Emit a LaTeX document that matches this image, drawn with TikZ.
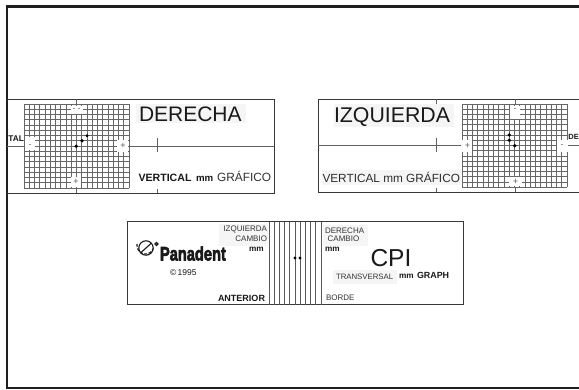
\documentclass[tikz,border=0pt]{standalone}
\usepackage{fontspec}
\setmainfont{Liberation Sans}
\newfontfamily\panafont[FakeBold=3.5]{Liberation Sans}
\newcommand{\fsz}[1]{\fontsize{#1}{#1}\selectfont}
\tikzset{
  frameline/.style={line width=2.5pt,draw=black!88},
  panelline/.style={line width=1pt,draw=black!78},
  gridline/.style={line width=0.6pt,draw=black!60},
  thinline/.style={line width=0.7pt,draw=black!62},
  label/.style={inner sep=0pt,outer sep=0pt,text=black!90},
  lw/.style={label,anchor=base west},
  le/.style={label,anchor=base east},
  patch/.style={fill=black!4,draw=none},
  gap/.style={fill=white,draw=none},
  dot/.style={circle,fill=black,inner sep=0pt,minimum size=#1},
  dot/.default=3.8pt
}
\begin{document}
\begin{tikzpicture}[x=1pt,y=-1pt]
\useasboundingbox (0,0) rectangle (579,390);
\fill[white] (0,0) rectangle (579,390);
% outer frame
\draw[frameline] (579,6.5) -- (7,6.5) -- (7,388) -- (579,388);

% ---------- left panel ----------
\fill[patch] (136,104) rectangle (246,123);
\draw[panelline] (7,99.5) -- (274,99.5) -- (274,193.5) -- (7,193.5);
\draw[thinline] (7,146) -- (274,146);
\draw[thinline] (76.3,99.5) -- (76.3,193.5);
\draw[thinline] (157,138) -- (157,152);
\draw[thinline] (157,189) -- (157,193.5);
\fill[white] (24,104) rectangle (129,188);
\foreach \i in {0,...,20} \draw[gridline] (24+5.25*\i,104) -- (24+5.25*\i,188);
\foreach \j in {0,...,16} \draw[gridline] (24,104+5.25*\j) -- (129,104+5.25*\j);
\fill[gap] (71,106.5) rectangle (83,114);
\fill[gap] (71,177) rectangle (81,187);
\fill[gap] (25,137) rectangle (35,150);
\fill[gap] (117,140) rectangle (128,152);
\node[label,text=black!55,font=\fsz{9}] (lm1) at (74,110) {-};
\node[label,text=black!55,font=\fsz{9}] (lm2) at (79,110) {-};
\node[label,text=black!65,font=\fsz{9}] (lp1) at (76,182) {+};
\node[label,text=black!55,font=\fsz{9}] (lm3) at (30,146) {-};
\node[label,text=black!65,font=\fsz{9}] (lp2) at (123,145.5) {+};
\node[dot] (ld1) at (76.3,146.3) {};
\node[dot] (ld2) at (82,140.7) {};
\node[dot,minimum size=3.2pt] (ld3) at (87,135.7) {};
\node[lw,font=\fsz{21}] (dere) at (139,121.8) {DERECHA};
\node[lw,font=\fsz{8.3}\bfseries] (tal) at (8.5,142) {TAL};
\node[lw,font=\fsz{10.6}\bfseries] (lv) at (138.5,181.7) {VERTICAL};
\node[lw,font=\fsz{9.7}\bfseries] (lmm) at (196,181.7) {mm};
\node[lw,font=\fsz{11.9},text=black!80] (lg) at (217,181.7) {GRÁFICO};

% ---------- right panel ----------
\fill[patch] (334,104) rectangle (454,127);
\fill[patch] (322,170) rectangle (461,185.5);
\draw[panelline] (579,99.5) -- (318,99.5) -- (318,192.5) -- (579,192.5);
\draw[thinline] (318,145.7) -- (579,145.7);
\draw[thinline] (515,99.5) -- (515,192.5);
\draw[thinline] (436,99.5) -- (436,104);
\draw[thinline] (436,138) -- (436,152);
\draw[thinline] (436,188) -- (436,192.5);
\fill[white] (462,104) rectangle (567,187);
\foreach \i in {0,...,20} \draw[gridline] (462+5.25*\i,104) -- (462+5.25*\i,187);
\foreach \j in {0,...,16} \draw[gridline] (462,104+5.1875*\j) -- (567,104+5.1875*\j);
\fill[gap] (510,106) rectangle (520,119);
\fill[gap] (509,177) rectangle (522,186);
\fill[gap] (461,140) rectangle (472,152);
\fill[gap] (557,140) rectangle (568,152);
\node[label,text=black!55,font=\fsz{9}] (rm1) at (515,110) {-};
\node[label,text=black!65,font=\fsz{9}] (rp1) at (515.5,182) {+};
\node[label,text=black!65,font=\fsz{9}] (rp2) at (467.5,145.5) {+};
\node[label,text=black!55,font=\fsz{9}] (rm2) at (562,146) {-};
\node[dot] (rd1) at (509.3,135) {};
\node[dot] (rd2) at (509.3,140.3) {};
\node[dot] (rd3) at (514.7,145.7) {};
\node[lw,font=\fsz{21.3}] (izq) at (334,122.7) {IZQUIERDA};
\node[lw,font=\fsz{11.8},text=black!82] (rv) at (322.5,182.7) {VERTICAL mm GRÁFICO};
\node[lw,font=\fsz{7.5}\bfseries] (rde) at (568.4,140) {DE};

% ---------- CPI panel ----------
\fill[patch] (219,224) rectangle (268,246);
\fill[patch] (323,225) rectangle (368,246);
\fill[patch] (333,270) rectangle (397,284);
\draw[panelline] (127,222) rectangle (463,305);
\foreach \x in {269,274,279,284,289,295,300,305,310,315,321}
  \draw[line width=0.7pt,draw=black!65] (\x,222) -- (\x,305);
\node[dot,minimum size=3.2pt] (cd1) at (295,258) {};
\node[dot,minimum size=3.2pt] (cd2) at (300,258) {};
\node[le,font=\fsz{8},text=black!80] (ci) at (267,231.7) {IZQUIERDA};
\node[le,font=\fsz{8},text=black!80] (cc) at (267,241.7) {CAMBIO};
\node[lw,font=\fsz{8.2}\bfseries] (cm) at (249,251.7) {mm};
\node[lw,font=\panafont\bfseries\fsz{19.5}] (pana) at (160,260.5) {\scalebox{0.75}[1]{Panadent}};
% logo
\draw[line width=1.1pt,black!90] (146,248) circle (7.2);
\draw[line width=1.1pt,black!90] (141,252.5) -- (151,243.5);
\draw[line width=1.1pt,black!90,dash pattern=on 3pt off 1.5pt] (137,244) arc[start angle=190,end angle=20,radius=8.5];
\draw[line width=1.1pt,black!90] (156.5,244) circle (1.5);
\node[lw,font=\fsz{8.5}] (cy) at (170,276) {©\,1995};
\node[lw,font=\fsz{9}\bfseries] (ca) at (218,302) {ANTERIOR};
\node[lw,font=\fsz{8},text=black!80] (cd) at (325,233.7) {DERECHA};
\node[lw,font=\fsz{8},text=black!80] (cc2) at (327.7,241.7) {CAMBIO};
\node[lw,font=\fsz{8.2}\bfseries] (cm2) at (325,251.7) {mm};
\node[lw,font=\fsz{24.5}] (cpi) at (370.5,266.7) {CPI};
\node[lw,font=\fsz{7.8},text=black!80] (ct) at (336,280) {TRANSVERSAL};
\node[lw,font=\fsz{8.2}\bfseries] (cm3) at (399,279) {mm};
\node[lw,font=\fsz{8.9}\bfseries] (cg) at (417,279) {GRAPH};
\node[lw,font=\fsz{8},text=black!80] (cb) at (326,301) {BORDE};
\end{tikzpicture}
\end{document}
